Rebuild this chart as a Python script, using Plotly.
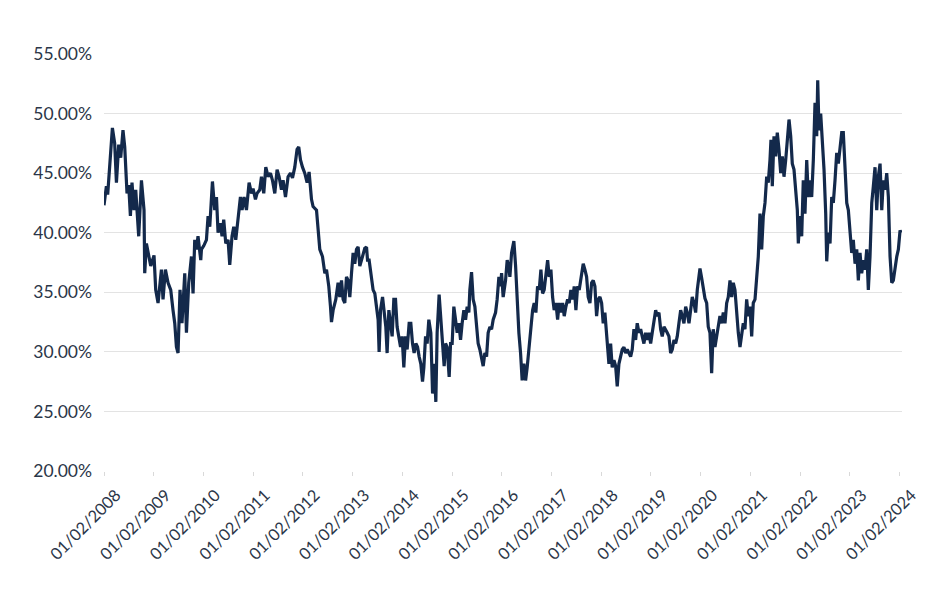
import pandas as pd
import plotly.graph_objects as go

# decimal-year positions
years = [
 2008.000, 2008.048, 2008.074, 2008.115, 2008.169, 2008.215, 2008.250, 2008.296, 2008.336, 2008.382,
 2008.417, 2008.463, 2008.497, 2008.531, 2008.563, 2008.604, 2008.638, 2008.698, 2008.753, 2008.805,
 2008.819, 2008.853, 2008.899, 2008.940, 2009.006, 2009.040, 2009.087, 2009.155, 2009.187, 2009.235,
 2009.288, 2009.342, 2009.388, 2009.423, 2009.457, 2009.489, 2009.529, 2009.569, 2009.624, 2009.658,
 2009.704, 2009.759, 2009.791, 2009.825, 2009.859, 2009.891, 2009.946, 2009.960, 2010.006, 2010.060,
 2010.093, 2010.127, 2010.181, 2010.227, 2010.262, 2010.294, 2010.342, 2010.374, 2010.408, 2010.449,
 2010.495, 2010.529, 2010.575, 2010.610, 2010.650, 2010.696, 2010.744, 2010.777, 2010.817, 2010.865,
 2010.918, 2010.966, 2010.998, 2011.046, 2011.078, 2011.133, 2011.167, 2011.213, 2011.254, 2011.300,
 2011.348, 2011.388, 2011.435, 2011.481, 2011.521, 2011.569, 2011.602, 2011.650, 2011.702, 2011.750,
 2011.791, 2011.837, 2011.883, 2011.917, 2011.952, 2011.992, 2012.038, 2012.085, 2012.125, 2012.173,
 2012.205, 2012.274, 2012.306, 2012.340, 2012.394, 2012.441, 2012.475, 2012.521, 2012.555, 2012.575,
 2012.608, 2012.662, 2012.708, 2012.742, 2012.777, 2012.809, 2012.843, 2012.877, 2012.909, 2012.944,
 2012.978, 2013.010, 2013.044, 2013.078, 2013.111, 2013.145, 2013.179, 2013.211, 2013.245, 2013.280,
 2013.300, 2013.332, 2013.366, 2013.412, 2013.447, 2013.481, 2013.513, 2013.533, 2013.561, 2013.602,
 2013.634, 2013.668, 2013.694, 2013.729, 2013.763, 2013.795, 2013.829, 2013.863, 2013.895, 2013.930,
 2013.964, 2013.996, 2014.030, 2014.064, 2014.097, 2014.137, 2014.171, 2014.205, 2014.237, 2014.272,
 2014.306, 2014.338, 2014.372, 2014.406, 2014.433, 2014.467, 2014.499, 2014.533, 2014.573, 2014.608,
 2014.640, 2014.674, 2014.700, 2014.740, 2014.769, 2014.809, 2014.841, 2014.869, 2014.901, 2014.942,
 2014.970, 2015.002, 2015.036, 2015.070, 2015.103, 2015.137, 2015.171, 2015.203, 2015.237, 2015.272,
 2015.304, 2015.338, 2015.358, 2015.392, 2015.425, 2015.459, 2015.493, 2015.525, 2015.559, 2015.594,
 2015.626, 2015.660, 2015.694, 2015.726, 2015.761, 2015.795, 2015.827, 2015.875, 2015.907, 2015.942,
 2015.976, 2015.996, 2016.028, 2016.076, 2016.109, 2016.149, 2016.163, 2016.197, 2016.243, 2016.278,
 2016.310, 2016.344, 2016.378, 2016.410, 2016.445, 2016.479, 2016.511, 2016.551, 2016.586, 2016.620,
 2016.652, 2016.686, 2016.720, 2016.753, 2016.787, 2016.821, 2016.853, 2016.887, 2016.922, 2016.954,
 2016.988, 2017.022, 2017.054, 2017.089, 2017.123, 2017.155, 2017.189, 2017.223, 2017.256, 2017.290,
 2017.324, 2017.356, 2017.390, 2017.425, 2017.457, 2017.491, 2017.525, 2017.557, 2017.592, 2017.638,
 2017.672, 2017.706, 2017.738, 2017.773, 2017.807, 2017.839, 2017.873, 2017.907, 2017.940, 2017.974,
 2018.008, 2018.040, 2018.074, 2018.109, 2018.121, 2018.141, 2018.155, 2018.189, 2018.221, 2018.256,
 2018.290, 2018.322, 2018.356, 2018.390, 2018.423, 2018.457, 2018.491, 2018.523, 2018.557, 2018.592,
 2018.624, 2018.658, 2018.692, 2018.724, 2018.759, 2018.793, 2018.825, 2018.859, 2018.893, 2018.926,
 2018.960, 2018.994, 2019.026, 2019.060, 2019.095, 2019.127, 2019.161, 2019.195, 2019.227, 2019.262,
 2019.296, 2019.328, 2019.362, 2019.396, 2019.429, 2019.463, 2019.497, 2019.529, 2019.563, 2019.598,
 2019.630, 2019.664, 2019.698, 2019.730, 2019.765, 2019.799, 2019.831, 2019.865, 2019.899, 2019.932,
 2019.966, 2019.986, 2020.020, 2020.052, 2020.086, 2020.121, 2020.153, 2020.187, 2020.221, 2020.253,
 2020.288, 2020.322, 2020.354, 2020.388, 2020.423, 2020.455, 2020.489, 2020.523, 2020.555, 2020.590,
 2020.624, 2020.656, 2020.690, 2020.724, 2020.757, 2020.791, 2020.825, 2020.857, 2020.891, 2020.925,
 2020.958, 2020.992, 2021.026, 2021.058, 2021.093, 2021.127, 2021.159, 2021.193, 2021.227, 2021.260,
 2021.294, 2021.328, 2021.360, 2021.394, 2021.414, 2021.441, 2021.475, 2021.509, 2021.541, 2021.575,
 2021.610, 2021.642, 2021.676, 2021.710, 2021.742, 2021.777, 2021.811, 2021.843, 2021.877, 2021.911,
 2021.944, 2021.964, 2021.998, 2022.032, 2022.064, 2022.098, 2022.133, 2022.165, 2022.199, 2022.233,
 2022.266, 2022.300, 2022.334, 2022.354, 2022.380, 2022.414, 2022.447, 2022.481, 2022.515, 2022.535,
 2022.567, 2022.602, 2022.636, 2022.668, 2022.702, 2022.736, 2022.769, 2022.803, 2022.837, 2022.869,
 2022.903, 2022.938, 2022.970, 2023.004, 2023.038, 2023.070, 2023.105, 2023.139, 2023.171, 2023.205,
 2023.239, 2023.272, 2023.306, 2023.340, 2023.372, 2023.406, 2023.441, 2023.473, 2023.507, 2023.541,
 2023.573, 2023.608, 2023.642, 2023.674, 2023.708, 2023.742, 2023.775, 2023.809, 2023.843, 2023.875,
 2023.909, 2023.944, 2023.976, 2024.010, 2024.030,
]

# values in percent
values = [
 42.3, 43.9, 43.2, 45.3, 48.8, 47.5, 44.2, 47.4, 46.3, 48.6,
 47.2, 43.3, 44.0, 41.4, 44.2, 41.9, 43.6, 39.7, 44.4, 41.9,
 36.6, 39.1, 38.0, 37.2, 38.1, 35.2, 34.1, 36.9, 34.4, 36.9,
 35.8, 35.2, 33.5, 32.4, 30.4, 29.9, 35.2, 32.4, 36.6, 31.6,
 35.8, 38.0, 34.9, 39.4, 38.6, 39.7, 37.7, 38.6, 38.9, 39.4,
 41.4, 40.5, 44.3, 41.9, 43.0, 40.0, 40.8, 39.7, 41.1, 39.1,
 39.4, 37.3, 39.7, 40.5, 39.4, 41.4, 43.0, 41.9, 43.0, 41.9,
 44.2, 43.3, 43.7, 42.8, 43.3, 43.6, 44.7, 43.3, 45.5, 44.7,
 45.0, 44.4, 43.3, 45.3, 44.7, 43.6, 44.4, 43.0, 44.7, 45.0,
 44.6, 45.5, 47.0, 47.2, 46.1, 45.5, 45.0, 44.2, 45.1, 42.8,
 42.2, 41.9, 40.0, 38.6, 38.0, 36.6, 36.9, 35.5, 33.8, 32.5,
 33.5, 34.4, 35.8, 34.6, 36.0, 34.4, 34.1, 36.3, 36.0, 34.6,
 36.6, 38.3, 37.4, 38.6, 38.8, 37.2, 37.7, 38.3, 38.7, 38.8,
 37.7, 37.7, 36.6, 35.2, 34.9, 33.5, 32.7, 30.0, 33.5, 34.6,
 33.3, 32.1, 29.9, 33.5, 32.4, 31.3, 34.4, 34.4, 32.1, 31.0,
 30.4, 31.3, 28.7, 31.3, 30.2, 32.4, 32.4, 30.7, 29.9, 30.7,
 30.4, 29.6, 29.0, 27.5, 28.7, 31.3, 30.7, 32.7, 31.6, 26.5,
 29.0, 25.8, 31.6, 34.8, 33.0, 30.7, 28.8, 30.7, 30.4, 27.9,
 30.7, 30.7, 33.8, 32.7, 31.6, 32.4, 31.0, 32.4, 33.5, 32.7,
 33.8, 33.3, 35.2, 36.7, 34.4, 33.8, 31.9, 30.7, 30.2, 29.6,
 28.8, 29.9, 29.6, 31.6, 32.1, 31.9, 32.7, 33.3, 34.4, 36.3,
 35.5, 36.6, 34.6, 36.0, 37.7, 36.9, 36.3, 38.3, 39.3, 37.2,
 34.4, 31.6, 29.9, 27.6, 29.0, 27.6, 28.7, 30.4, 31.6, 33.5,
 34.1, 33.3, 35.5, 35.2, 36.9, 34.9, 35.2, 36.6, 37.7, 36.3,
 36.9, 34.6, 33.5, 34.1, 32.7, 34.1, 33.3, 34.1, 33.0, 33.8,
 34.4, 34.1, 35.2, 34.4, 35.5, 33.5, 35.5, 35.2, 36.3, 37.4,
 36.9, 36.3, 34.6, 34.1, 35.8, 36.0, 35.5, 33.0, 34.4, 34.6,
 34.1, 32.4, 33.3, 31.6, 30.4, 29.9, 29.0, 30.7, 28.7, 29.3,
 28.8, 27.1, 29.0, 29.6, 30.2, 30.4, 29.9, 30.2, 29.9, 29.6,
 30.2, 31.9, 31.0, 32.4, 31.6, 31.9, 31.3, 30.7, 31.6, 31.0,
 31.6, 30.7, 31.6, 32.7, 33.5, 33.0, 33.3, 31.9, 31.3, 32.1,
 31.9, 31.6, 31.3, 29.9, 30.2, 31.0, 30.7, 31.3, 32.4, 33.5,
 33.0, 32.4, 33.8, 33.3, 32.4, 33.8, 34.6, 34.1, 33.3, 35.2,
 36.3, 37.0, 36.2, 35.2, 34.5, 34.1, 32.1, 31.6, 28.2, 31.9,
 30.4, 31.3, 32.1, 33.0, 32.4, 33.3, 32.4, 34.1, 34.6, 36.0,
 34.6, 35.8, 35.2, 33.0, 31.6, 30.4, 31.6, 32.4, 31.9, 34.4,
 33.0, 33.8, 31.3, 34.1, 34.4, 36.0, 38.0, 41.6, 38.6, 41.4,
 42.5, 44.7, 44.2, 46.1, 47.8, 43.9, 48.1, 46.4, 48.4, 47.0,
 45.0, 46.4, 44.7, 46.1, 48.1, 49.5, 48.1, 45.8, 45.3, 43.9,
 41.9, 39.1, 41.4, 39.7, 44.4, 41.6, 46.1, 43.0, 44.4, 43.0,
 46.1, 50.9, 48.1, 52.8, 48.6, 50.0, 48.1, 45.3, 41.6, 37.6,
 40.0, 39.1, 43.0, 42.5, 44.4, 46.7, 45.8, 47.5, 48.4, 48.4,
 45.3, 42.5, 41.9, 40.0, 38.3, 39.4, 37.4, 38.6, 36.0, 38.3,
 36.6, 37.7, 36.9, 38.6, 35.2, 38.0, 42.5, 43.9, 45.5, 41.9,
 44.7, 45.8, 41.9, 44.4, 43.6, 45.0, 43.0, 38.0, 35.8, 36.0,
 37.2, 38.0, 38.6, 40.2, 40.0,
]

tick_years = list(range(2008, 2025))
tick_labels = [f"01/02/{y}" for y in tick_years]
y_ticks = [20, 25, 30, 35, 40, 45, 50, 55]

base = pd.Timestamp("2008-01-02")
dates = [base + pd.to_timedelta((t - 2008) * 365.25, unit="D") for t in years]
tick_dates = [pd.Timestamp(f"{y}-01-02") for y in tick_years]
vals = [v / 100 for v in values]

fig = go.Figure()
fig.add_trace(go.Scatter(
    x=dates, y=vals, mode="lines",
    line=dict(color="#13294b", width=3.2),
    hoverinfo="skip", showlegend=False,
))

font_color = "#2b3648"
fig.update_layout(
    width=940, height=600,
    paper_bgcolor="white", plot_bgcolor="white",
    margin=dict(l=96, r=46, t=46, b=137, autoexpand=False),
    font=dict(family="Lato, sans-serif", size=16, color=font_color),
    showlegend=False,
)
fig.update_xaxes(
    range=[pd.Timestamp("2008-01-02"), pd.Timestamp("2024-01-20")],
    tickvals=tick_dates, ticktext=tick_labels, tickangle=-45,
    showgrid=False, zeroline=False, showline=False,
    ticks="outside", ticklen=4, tickcolor="#d9d9d9",
    ticklabelshift=12, ticklabelstandoff=3,
    tickfont=dict(size=16.5, color=font_color),
)
fig.update_yaxes(
    range=[0.20, 0.55], tickvals=[v / 100 for v in y_ticks],
    ticktext=[f"{v:.2f}%" for v in y_ticks],
    showgrid=True, gridcolor="#e3e3e3", gridwidth=1,
    zeroline=False, showline=False, ticks="",
    ticklabelstandoff=11,
    tickfont=dict(size=17.5, color=font_color),
)

fig.write_html("out.html")
